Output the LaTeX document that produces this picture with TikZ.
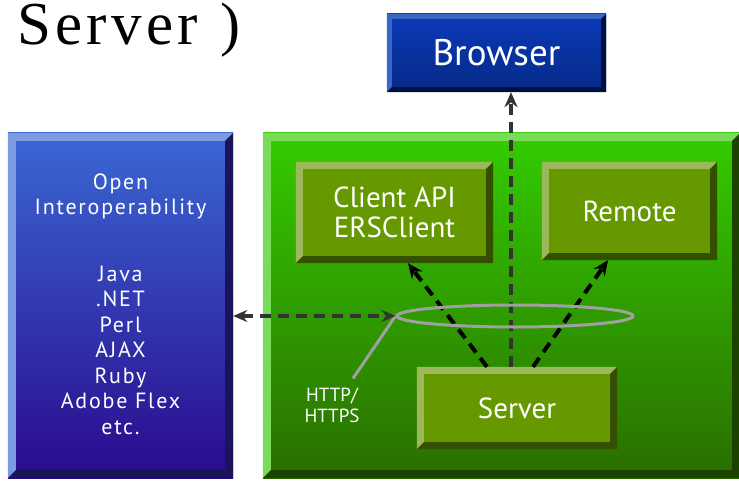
\documentclass[tikz,border=0pt]{standalone}
\usepackage{fontspec}
\setsansfont{PT Sans}
\newfontfamily\titlefont{Liberation Serif}
\usetikzlibrary{arrows.meta}
\usetikzlibrary{shapes.geometric}
\usetikzlibrary{positioning,calc}

\definecolor{oitop}{HTML}{3A68D4}
\definecolor{oibottom}{HTML}{2A0A8C}
\definecolor{oilight}{HTML}{7C9CE2}
\definecolor{oidark}{HTML}{1A1458}
\definecolor{brtop}{HTML}{0A3AB8}
\definecolor{brbottom}{HTML}{062A88}
\definecolor{brlight}{HTML}{3A66C8}
\definecolor{brdark}{HTML}{00103A}
\definecolor{grtop}{HTML}{34CC00}
\definecolor{grbottom}{HTML}{2A6E00}
\definecolor{grlight}{HTML}{78DC58}
\definecolor{grdark}{HTML}{1C4200}
\definecolor{ersolive}{HTML}{669900}
\definecolor{olight}{HTML}{9DB85A}
\definecolor{odark}{HTML}{354F00}
\definecolor{ringgray}{HTML}{A0A0A0}
\definecolor{dashgray}{HTML}{333333}

% bevelled edge: node, light colour, dark colour, depth
\newcommand{\bevel}[4]{%
  \fill[#2] (#1.north west) -- (#1.north east) -- ([shift={(-#4,-#4)}]#1.north east)
    -- ([shift={(#4,-#4)}]#1.north west) -- ([shift={(#4,#4)}]#1.south west)
    -- (#1.south west) -- cycle;
  \fill[#3] (#1.south east) -- (#1.south west) -- ([shift={(#4,#4)}]#1.south west)
    -- ([shift={(-#4,#4)}]#1.south east) -- ([shift={(-#4,-#4)}]#1.north east)
    -- (#1.north east) -- cycle;
}

\begin{document}
\begin{tikzpicture}[x=1pt, y=-1pt,
     panel/.style  = {rectangle, inner sep=0pt, text=white, font=\sffamily, align=center},
     module/.style = {panel, fill=ersolive},
     label/.style  = {panel, font=\sffamily\fontsize{29}{30}\selectfont},
     signal/.style = {line width=4pt, dash pattern=on 11pt off 7pt,
                      -{Stealth[length=15pt,width=13pt]}},
     wire/.style   = {line width=3pt, draw=ringgray}
]
   \useasboundingbox (0,0) rectangle (739,484);

   % heading
   \node[anchor=base west, inner sep=0pt, text height=41pt, text depth=10pt] (title) at (17,45)
      {\titlefont\fontsize{61}{61}\selectfont\addfontfeature{LetterSpace=7}Server\hspace{23pt}%
       \fontsize{60}{60}\selectfont)};

   % boxes
   \node[panel, top color=brtop, bottom color=brbottom,
         minimum width=219, minimum height=78] (browser) at (496.5,53) {};
   \bevel{browser}{brlight}{brdark}{5pt}
   \node[text=white, font=\sffamily\fontsize{37}{40}\selectfont] at (browser) {Browser};

   \node[panel, top color=oitop, bottom color=oibottom,
         minimum width=225, minimum height=345] (interop) at (120.5,305.5) {};
   \bevel{interop}{oilight}{oidark}{8pt}
   \node[panel, font=\sffamily\fontsize{22}{25.5}\selectfont\addfontfeature{LetterSpace=8}]
      (langs) at (120.5,304)
      {Open\\Interoperability\\[41pt]Java\\.NET\\Perl\\AJAX\\Ruby\\Adobe Flex\\etc.};

   \node[panel, top color=grtop, bottom color=grbottom,
         minimum width=477, minimum height=345] (ers) at (501.5,305.5) {};
   \bevel{ers}{grlight}{grdark}{8pt}

   \node[module, minimum width=197, minimum height=101] (client) at (394.5,212.5) {};
   \bevel{client}{olight}{odark}{7pt}
   \node[label] at (client) {Client API\\ERSClient};

   \node[module, minimum width=175, minimum height=98] (remote) at (629.5,211) {};
   \bevel{remote}{olight}{odark}{7pt}
   \node[label] at (remote) {Remote};

   \node[module, minimum width=200, minimum height=82] (server) at (517,408) {};
   \bevel{server}{olight}{odark}{7pt}
   \node[label] at (server) {Server};

   % connections
   \draw[signal, draw=dashgray] ([xshift=-6pt]server.north)
      -- ([xshift=-6pt]server.north |- browser.south);
   \draw[signal] ([xshift=-30pt]server.north) -- ([xshift=13.5pt]client.south);
   \draw[signal] ([xshift=16pt]server.north) -- ([xshift=-21.5pt]remote.south);

   % protocol ring
   \node[ellipse, wire, minimum width=236, minimum height=22, inner sep=0pt] (ring) at (515,316) {};
   \node[panel, font=\sffamily\fontsize{19}{21}\selectfont] (proto) at (332,405) {HTTP/\\HTTPS};
   \draw[wire] (ring.west) -- ([xshift=21pt,yshift=9pt]proto.north);

   \draw[line width=3.5pt, draw=dashgray, dash pattern=on 11pt off 7pt,
         {Stealth[length=14pt,width=12pt]}-{Stealth[length=14pt,width=12pt]}]
      (interop.east |- ring.west) -- (ring.west);
\end{tikzpicture}
\end{document}
